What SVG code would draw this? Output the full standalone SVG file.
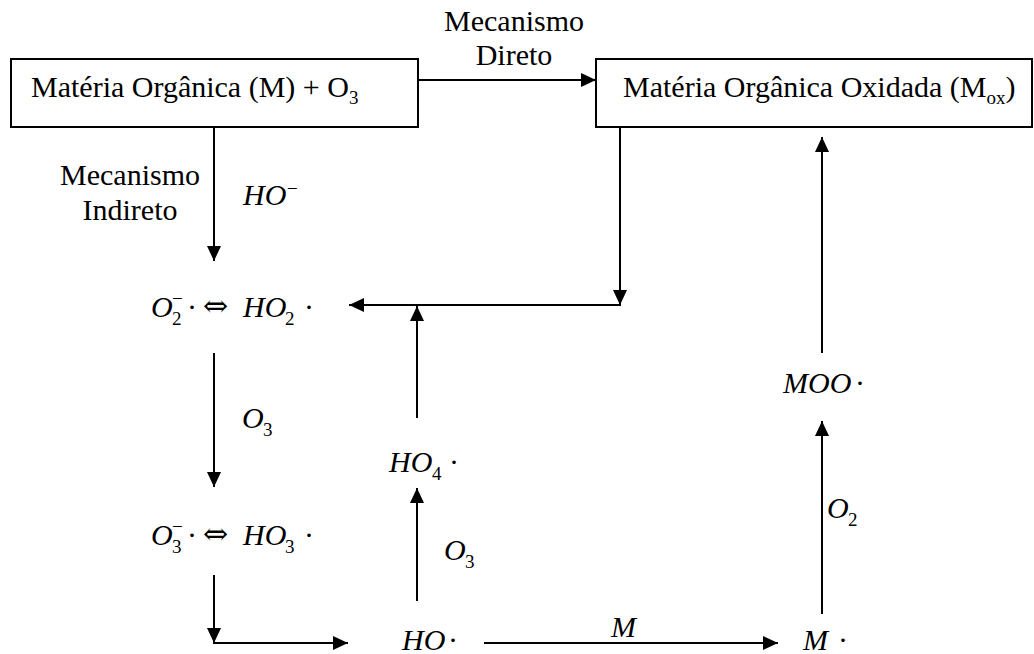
<svg xmlns="http://www.w3.org/2000/svg" width="1034" height="654" viewBox="0 0 1034 654">
<defs>
<marker id="ah" markerUnits="userSpaceOnUse" markerWidth="15" markerHeight="14" refX="15" refY="7" orient="auto">
<path d="M0,0 L15,7 L0,14 z" fill="#000"/>
</marker>
</defs>
<g id="connectors" stroke="#000" stroke-width="2" fill="none" marker-end="url(#ah)">
<line x1="418" y1="80" x2="596" y2="80"/>
<line x1="214" y1="127" x2="214" y2="261"/>
<line x1="214" y1="353" x2="214" y2="487"/>
<line x1="214" y1="575" x2="214" y2="643"/>
<line x1="213" y1="643" x2="348" y2="643"/>
<line x1="620" y1="124" x2="620" y2="305"/>
<line x1="621" y1="305" x2="349" y2="305"/>
<line x1="417" y1="418" x2="417" y2="306"/>
<line x1="417" y1="601" x2="417" y2="488"/>
<line x1="484" y1="643" x2="778" y2="643"/>
<line x1="822" y1="614" x2="822" y2="421"/>
<line x1="822" y1="353" x2="822" y2="137"/>
</g>
<g id="labels">
<text style="font-family:'Liberation Serif','Times New Roman',serif;font-size:30px" x="514" y="31" text-anchor="middle">Mecanismo</text>
<text style="font-family:'Liberation Serif','Times New Roman',serif;font-size:30px" x="514" y="65" text-anchor="middle">Direto</text>
<text style="font-family:'Liberation Serif','Times New Roman',serif;font-size:30px" x="130" y="185" text-anchor="middle">Mecanismo</text>
<text style="font-family:'Liberation Serif','Times New Roman',serif;font-size:30px" x="130" y="220" text-anchor="middle">Indireto</text>
<text style="font-family:'Liberation Serif','Times New Roman',serif;font-size:30px;font-style:italic" x="243" y="205">HO<tspan style="font-size:19px;font-style:normal" x="287" y="195">−</tspan></text>
<text style="font-family:'Liberation Serif','Times New Roman',serif;font-size:30px;font-style:italic" x="242" y="428">O<tspan style="font-size:19px;font-style:normal" x="263" y="436">3</tspan></text>
<text style="font-family:'Liberation Serif','Times New Roman',serif;font-size:30px;font-style:italic" x="444" y="560">O<tspan style="font-size:19px;font-style:normal" x="465" y="568">3</tspan></text>
<text style="font-family:'Liberation Serif','Times New Roman',serif;font-size:30px;font-style:italic" x="611" y="637">M</text>
<text style="font-family:'Liberation Serif','Times New Roman',serif;font-size:30px;font-style:italic" x="827" y="518">O<tspan style="font-size:19px;font-style:normal" x="848" y="526">2</tspan></text>
</g>
<g id="node-m-o3">
<rect x="11" y="59" width="407" height="68" fill="#fff" stroke="#000" stroke-width="2"/>
<text style="font-family:'Liberation Serif','Times New Roman',serif;font-size:30px" x="31" y="97">Matéria Orgânica (M) + O<tspan style="font-size:19px" dy="7">3</tspan></text>
</g>
<g id="node-mox">
<rect x="596" y="59" width="436" height="68" fill="#fff" stroke="#000" stroke-width="2"/>
<text style="font-family:'Liberation Serif','Times New Roman',serif;font-size:30px" x="623" y="97">Matéria Orgânica Oxidada (M<tspan style="font-size:19px" dy="7">ox</tspan><tspan dy="-7">)</tspan></text>
</g>
<g id="node-o2">
<text style="font-family:'Liberation Serif','Times New Roman',serif;font-size:30px" x="151" y="317"><tspan style="font-style:italic">O</tspan><tspan style="font-size:19px" x="172" y="325">2</tspan><tspan style="font-size:19px" x="172" y="305">−</tspan><tspan x="187" y="317">·</tspan><tspan x="243" y="317" style="font-style:italic">HO</tspan><tspan style="font-size:19px" x="285" y="325">2</tspan><tspan x="304" y="317">·</tspan></text>
<text style="font-family:'DejaVu Serif',serif;font-size:30px" x="203" y="316">⇔</text>
</g>
<g id="node-o3">
<text style="font-family:'Liberation Serif','Times New Roman',serif;font-size:30px" x="151" y="545"><tspan style="font-style:italic">O</tspan><tspan style="font-size:19px" x="172" y="553">3</tspan><tspan style="font-size:19px" x="172" y="533">−</tspan><tspan x="187" y="545">·</tspan><tspan x="243" y="545" style="font-style:italic">HO</tspan><tspan style="font-size:19px" x="285" y="553">3</tspan><tspan x="304" y="545">·</tspan></text>
<text style="font-family:'DejaVu Serif',serif;font-size:30px" x="203" y="544">⇔</text>
</g>
<g id="node-ho4">
<text style="font-family:'Liberation Serif','Times New Roman',serif;font-size:30px" x="389" y="472"><tspan style="font-style:italic">HO</tspan><tspan style="font-size:19px" x="432" y="480">4</tspan><tspan x="449" y="472">·</tspan></text>
</g>
<g id="node-ho">
<text style="font-family:'Liberation Serif','Times New Roman',serif;font-size:30px" x="402" y="650"><tspan style="font-style:italic">HO</tspan><tspan x="448" y="650">·</tspan></text>
</g>
<g id="node-m">
<text style="font-family:'Liberation Serif','Times New Roman',serif;font-size:30px" x="803" y="650"><tspan style="font-style:italic">M</tspan><tspan x="838" y="650">·</tspan></text>
</g>
<g id="node-moo">
<text style="font-family:'Liberation Serif','Times New Roman',serif;font-size:30px" x="783" y="393"><tspan style="font-style:italic">MOO</tspan><tspan x="855" y="393">·</tspan></text>
</g>
</svg>
